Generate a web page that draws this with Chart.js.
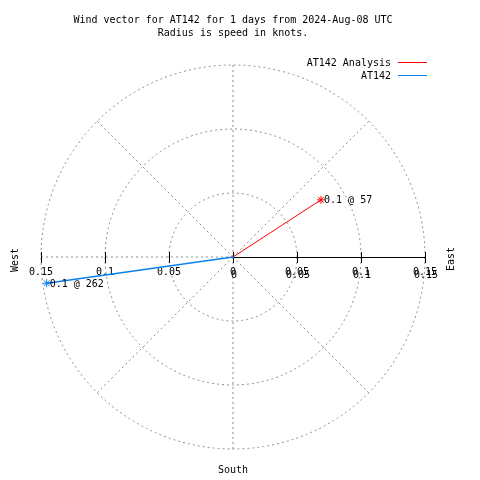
<!DOCTYPE html>
<html>
<head>
<meta charset="utf-8">
<script src="https://cdn.jsdelivr.net/npm/chart.js@4"></script>
<style>
  body { margin: 0; background: #fff; }
  #wrap { width: 480px; height: 480px; }
</style>
</head>
<body>
<div id="wrap"><canvas id="windChart" width="480" height="480"></canvas></div>
<script>
// Wind vectors (speed in knots, direction in degrees from north, clockwise)
const seriesNames = ['AT142 Analysis', 'AT142'];
const speeds = [0.082, 0.147];
const directions = [57, 262];
const vectorLabels = ['0.1 @ 57', '0.1 @ 262'];
const seriesColors = ['#ff0000', '#0a80ee'];

// Polar grid
const rings = [0.05, 0.1, 0.15];
const spokeAngles = [0, 45, 90, 135, 180, 225, 270, 315];
const tickValues = [0, 0.05, 0.1, 0.15];
const tickLabels = ['0', '0.05', '0.1', '0.15'];

const titleLines = ['Wind vector for AT142 for 1 days from 2024-Aug-08 UTC', 'Radius is speed in knots.'];
const FONT = '10px "DejaVu Sans Mono", "Liberation Mono", monospace';

// one line dataset per vector, origin -> tip
const datasets = speeds.map((s, i) => {
    const a = directions[i] * Math.PI / 180;
    return {
        label: seriesNames[i],
        data: [{x: 0, y: 0}, {x: s * Math.sin(a), y: s * Math.cos(a)}],
        borderColor: seriesColors[i],
        backgroundColor: seriesColors[i],
        borderWidth: i === 0 ? 1 : 1.5,
        showLine: true,
        pointStyle: 'star',
        pointRadius: [i === 0 ? 0 : 1.2, 4],
        pointBorderWidth: 1
    };
});

const polarGrid = {
    id: 'polarGrid',
    beforeDatasetsDraw(chart) {
        const ctx = chart.ctx;
        const xs = chart.scales.x, ys = chart.scales.y;
        const cx = xs.getPixelForValue(0), cy = ys.getPixelForValue(0);
        const rMax = rings[rings.length - 1];
        ctx.save();
        ctx.strokeStyle = '#8c8c8c';
        ctx.lineWidth = 1;
        ctx.setLineDash([2, 3]);
        rings.forEach(r => {
            ctx.beginPath();
            ctx.arc(cx, cy, xs.getPixelForValue(r) - cx, 0, Math.PI * 2);
            ctx.stroke();
        });
        spokeAngles.forEach(d => {
            if (d === 90) return; // solid axis drawn instead
            const a = d * Math.PI / 180;
            ctx.beginPath();
            ctx.moveTo(cx, cy);
            ctx.lineTo(xs.getPixelForValue(rMax * Math.sin(a)), ys.getPixelForValue(rMax * Math.cos(a)));
            ctx.stroke();
        });
        ctx.setLineDash([]);
        // axis on the east side
        ctx.strokeStyle = '#000';
        ctx.beginPath();
        ctx.moveTo(cx, cy + 0.5);
        ctx.lineTo(xs.getPixelForValue(rMax), cy + 0.5);
        ctx.stroke();
        tickValues.forEach(v => {
            [v, -v].forEach(t => {
                const px = Math.round(xs.getPixelForValue(t)) + 0.5;
                ctx.beginPath();
                ctx.moveTo(px, cy - 5);
                ctx.lineTo(px, cy + 6);
                ctx.stroke();
            });
        });
        // tick labels
        ctx.fillStyle = '#000';
        ctx.font = FONT;
        ctx.textAlign = 'center';
        ctx.textBaseline = 'middle';
        tickValues.forEach((v, i) => {
            const pr = xs.getPixelForValue(v);
            ctx.fillText(tickLabels[i], pr, cy + 15);
            ctx.fillText(tickLabels[i], pr + 1, cy + 18);
            if (v > 0) ctx.fillText(tickLabels[i], xs.getPixelForValue(-v), cy + 15);
        });
        ctx.restore();
    },
    afterDatasetsDraw(chart) {
        const ctx = chart.ctx;
        const xs = chart.scales.x, ys = chart.scales.y;
        const cx = xs.getPixelForValue(0), cy = ys.getPixelForValue(0);
        ctx.save();
        ctx.fillStyle = '#000';
        ctx.font = FONT;
        ctx.textBaseline = 'middle';
        // vector labels next to the tips
        chart.data.datasets.forEach((ds, i) => {
            const tip = ds.data[1];
            ctx.textAlign = 'left';
            ctx.fillText(vectorLabels[i], xs.getPixelForValue(tip.x) + 3, ys.getPixelForValue(tip.y) + 1);
        });
        // title
        ctx.textAlign = 'center';
        ctx.fillText(titleLines[0], 233, 20);
        ctx.fillText(titleLines[1], 233, 33);
        // legend
        seriesNames.forEach((n, i) => {
            const y = 63 + i * 13;
            ctx.textAlign = 'right';
            ctx.fillText(n, 391, y);
            ctx.strokeStyle = seriesColors[i];
            ctx.lineWidth = 1;
            ctx.beginPath();
            ctx.moveTo(398, y - 0.5);
            ctx.lineTo(427, y - 0.5);
            ctx.stroke();
        });
        // compass words
        ctx.textAlign = 'center';
        ctx.fillText('South', cx, 470);
        [['West', 15, cy + 3], ['East', 451, cy + 2]].forEach(w => {
            ctx.save();
            ctx.translate(w[1], w[2]);
            ctx.rotate(-Math.PI / 2);
            ctx.fillText(w[0], 0, 0);
            ctx.restore();
        });
        ctx.restore();
    }
};

new Chart(document.getElementById('windChart').getContext('2d'), {
    type: 'scatter',
    data: { datasets: datasets },
    options: {
        responsive: false,
        animation: false,
        layout: { padding: 0, autoPadding: false },
        plugins: { legend: { display: false }, title: { display: false }, tooltip: { enabled: false } },
        scales: {
            // 1280 px per knot, centre at (233, 257)
            x: { type: 'linear', display: false, min: -233 / 1280, max: 247 / 1280 },
            y: { type: 'linear', display: false, min: -223 / 1280, max: 257 / 1280 }
        }
    },
    plugins: [polarGrid]
});
</script>
</body>
</html>
